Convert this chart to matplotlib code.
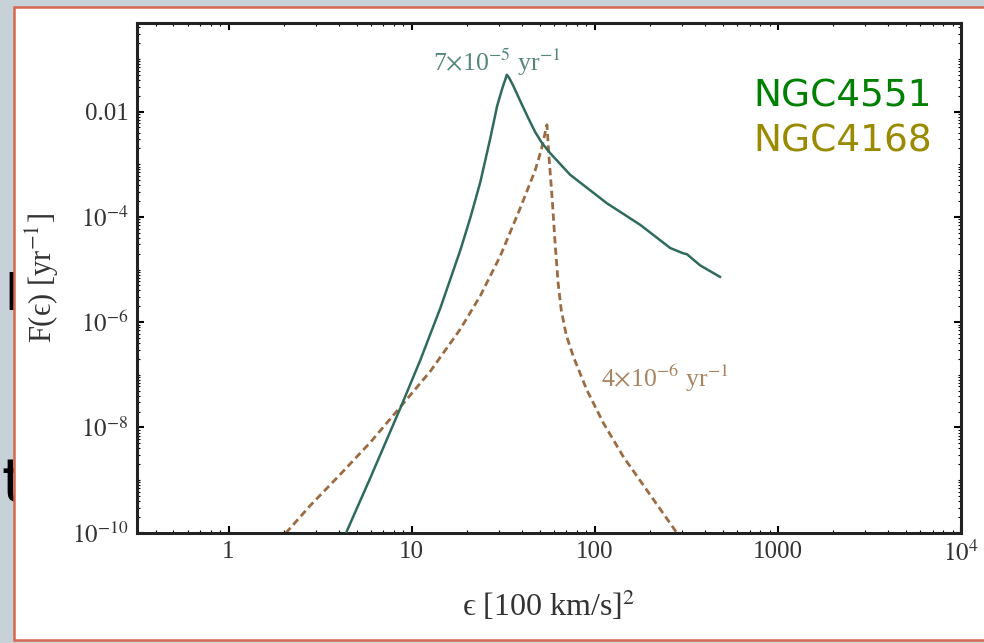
import numpy as np
import matplotlib
matplotlib.use('Agg')
from matplotlib import pyplot as plt
from matplotlib import ticker
from matplotlib.patches import Rectangle

plt.rcParams['font.family'] = ['Liberation Serif', 'DejaVu Serif']
plt.rcParams['mathtext.fontset'] = 'stix'

# NGC4551 (solid) - epsilon in [100 km/s]^2, log10 F in yr^-1
eps_4551 = [4.40, 5.96, 8.68, 11.15, 14.35, 18.45, 20.9, 23.7, 26.9, 29.3, 31.3, 33.1,
            34.1, 35.9, 39.2, 43.3, 47.3, 51.6, 57.1, 73.4, 116.4, 177, 258, 303, 319, 376, 483]
logF_4551 = [-9.99, -8.95, -7.63, -6.72, -5.73, -4.63, -4.02, -3.34, -2.50, -1.89, -1.55, -1.30,
             -1.36, -1.51, -1.80, -2.12, -2.39, -2.60, -2.79, -3.20, -3.74, -4.15, -4.59, -4.69,
             -4.71, -4.92, -5.14]

# NGC4168 (dashed)
eps_4168 = [2.05, 2.80, 4.08, 5.96, 8.68, 12.66, 18.45, 23.7, 30.5, 39.2, 47.3, 51.0, 54.8,
            56.4, 58.6, 60.8, 63.1, 65.6, 69.9, 76.5, 90.5, 111.6, 143.4, 192.4, 281.6]
logF_4168 = [-10.01, -9.48, -8.89, -8.28, -7.61, -6.93, -6.13, -5.50, -4.74, -3.83, -3.11, -2.73,
             -2.25, -2.92, -3.68, -4.53, -5.26, -5.77, -6.25, -6.66, -7.29, -7.92, -8.56, -9.19,
             -10.01]

xticks = [1, 10, 100, 1000, 1e4]
xticklabels = ['1', '10', '100', '1000', '$10^4$']
yticks = [1e-10, 1e-8, 1e-6, 1e-4, 1e-2]
yticklabels = ['$10^{-10}$', '$10^{-8}$', '$10^{-6}$', '$10^{-4}$', '0.01']

rate_4551 = '7$\\times$10$^{-5}$ yr$^{-1}$'
rate_4168 = '4$\\times$10$^{-6}$ yr$^{-1}$'
eps = '\u03f5'

W, H = 984, 643
fig = plt.figure(figsize=(W / 100, H / 100), dpi=100)
fig.set_facecolor('#c6d1d8')

# slide text peeking out from behind the panel
fig.text(4 / W, 1 - 310 / H, 'l', fontsize=35, family='DejaVu Sans', color='k', zorder=-3)
fig.text(1 / W, 1 - 502 / H, 't', fontsize=44, family='DejaVu Sans', color='k', zorder=-3)

# white panel with orange border
fig.patches.append(Rectangle((14 / W, 1 - 640 / H), 1.0, (640 - 7) / H,
                             transform=fig.transFigure, facecolor='white',
                             edgecolor='#d5674d', lw=1.8, zorder=-1))

ax = fig.add_axes([137 / W, 1 - 532.7 / H, (961 - 137) / W, (532.7 - 22.7) / H])
ax.set_facecolor('white')

ax.plot(eps_4551, 10 ** np.array(logF_4551), c='#2f6b5d', lw=1.8, zorder=3)
ax.plot(eps_4168, 10 ** np.array(logF_4168), c='#9b6b42', lw=2.0,
        dashes=(2.6, 1.5), zorder=2)

ax.set_xscale('log')
ax.set_yscale('log')
ax.set_xlim(10 ** -0.5, 1e4)
ax.set_ylim(1e-10, 10 ** -0.31)

ax.set_xticks(xticks)
ax.set_xticklabels(xticklabels)
ax.set_yticks(yticks)
ax.set_yticklabels(yticklabels)
ax.xaxis.set_minor_locator(ticker.LogLocator(base=10, subs=np.arange(2, 10), numticks=20))
ax.yaxis.set_minor_locator(ticker.LogLocator(base=10, subs=np.arange(1, 10), numticks=30))
ax.xaxis.set_minor_formatter(ticker.NullFormatter())
ax.yaxis.set_minor_formatter(ticker.NullFormatter())

ax.tick_params(which='both', direction='in', top=True, right=True, labelsize=18,
               colors='k', labelcolor='#333333')
ax.tick_params(which='major', length=5, width=1.5, pad=6)
ax.tick_params(which='minor', length=2.5, width=0.8)
for s in ax.spines.values():
    s.set_linewidth(2.2)
    s.set_color('#222222')

ax.set_xlabel(eps + ' [100 km/s]$^2$', fontsize=23, color='#333333', labelpad=16)
ax.set_ylabel('F(' + eps + ') [yr$^{-1}$]', fontsize=22, color='#333333', labelpad=8)

ax.text(29.3, 10 ** -1.055, rate_4551, ha='center', va='center', fontsize=18.5, color='#55867b')
ax.text(242, 10 ** -7.06, rate_4168, ha='center', va='center', fontsize=18.5, color='#a88462')

ax.text(0.965, 0.835, 'NGC4551', transform=ax.transAxes, ha='right', va='baseline',
        fontsize=27, family='DejaVu Sans', color='#008000')
ax.text(0.965, 0.747, 'NGC4168', transform=ax.transAxes, ha='right', va='baseline',
        fontsize=27, family='DejaVu Sans', color='#9a8a00')

fig.savefig('out.png', dpi=100, facecolor=fig.get_facecolor())
